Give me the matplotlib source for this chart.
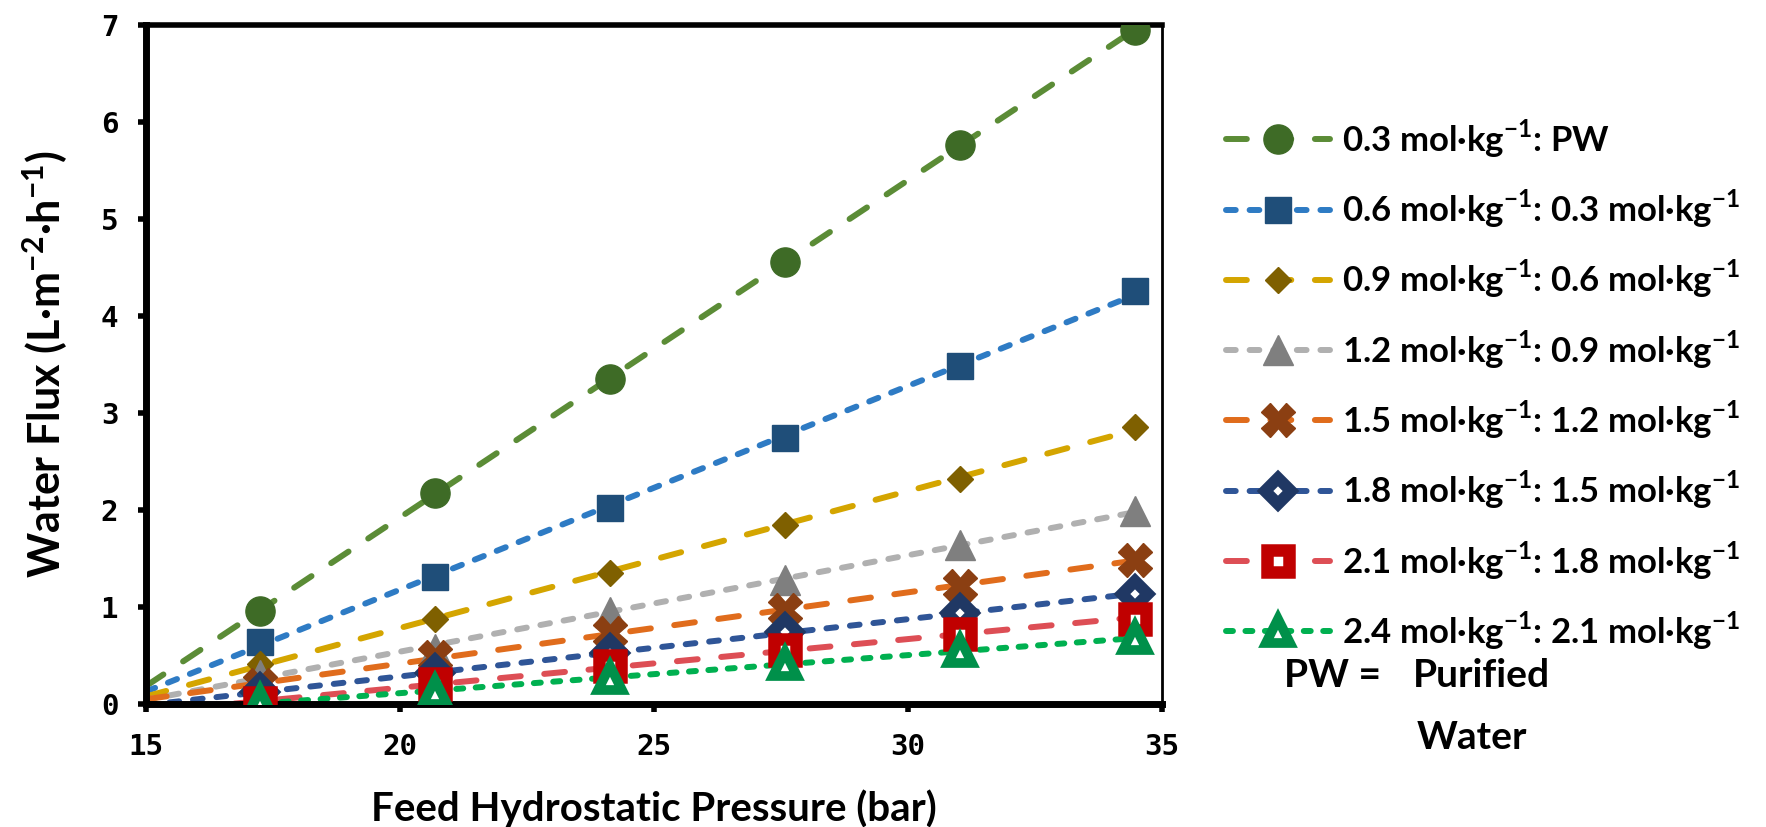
import numpy as np
import matplotlib
matplotlib.use("Agg")
import matplotlib.pyplot as plt
from matplotlib.lines import Line2D

plt.rcParams['font.family'] = ['Lato', 'DejaVu Sans']
plt.rcParams['mathtext.fontset'] = 'custom'
plt.rcParams['mathtext.rm'] = 'Lato'
plt.rcParams['mathtext.bf'] = 'Lato:bold'
plt.rcParams['lines.scale_dashes'] = False

# Feed hydrostatic pressure (bar)
pressure = [17.24, 20.68, 24.13, 27.58, 31.03, 34.47]

# Water flux (L m-2 h-1) for each draw:feed pair
flux_03_pw = [0.96, 2.17, 3.35, 4.56, 5.76, 6.95]
flux_06_03 = [0.64, 1.31, 2.02, 2.74, 3.48, 4.26]
flux_09_06 = [0.41, 0.88, 1.35, 1.85, 2.32, 2.85]
flux_12_09 = [0.30, 0.57, 0.95, 1.28, 1.64, 1.99]
flux_15_12 = [0.20, 0.48, 0.73, 0.97, 1.22, 1.48]
flux_18_15 = [0.12, 0.32, 0.53, 0.74, 0.94, 1.13]
flux_21_18 = [0.01, 0.21, 0.39, 0.56, 0.72, 0.88]
flux_24_21 = [0.02, 0.12, 0.27, 0.41, 0.55, 0.68]

sup = r'$^{\mathbf{-1}}$'
labels = [
    '0.3 mol·kg' + sup + ': PW',
    '0.6 mol·kg' + sup + ': 0.3 mol·kg' + sup,
    '0.9 mol·kg' + sup + ': 0.6 mol·kg' + sup,
    '1.2 mol·kg' + sup + ': 0.9 mol·kg' + sup,
    '1.5 mol·kg' + sup + ': 1.2 mol·kg' + sup,
    '1.8 mol·kg' + sup + ': 1.5 mol·kg' + sup,
    '2.1 mol·kg' + sup + ': 1.8 mol·kg' + sup,
    '2.4 mol·kg' + sup + ': 2.1 mol·kg' + sup,
]
series = [flux_03_pw, flux_06_03, flux_09_06, flux_12_09,
          flux_15_12, flux_18_15, flux_21_18, flux_24_21]

long_dash = (0, (15, 17))
short_dash = (0, (7, 10))
dot_dash = (0, (5, 9))

# line colour, dash, marker, marker size, face, edge, edge width
styles = [
    ('#5b8c36', long_dash, 'o', 21, '#3e6b26', '#3e6b26', 1),
    ('#2e7bc4', short_dash, 's', 19, '#1f4e79', '#1f4e79', 1),
    ('#d4a500', long_dash, 'D', 13, '#7f6000', '#7f6000', 1),
    ('#b0b0b0', short_dash, '^', 21, '#7f7f7f', '#7f7f7f', 1),
    ('#e06c1c', long_dash, 'X', 24, '#8b3f12', '#8b3f12', 1),
    ('#2f5597', short_dash, 'D', 13.5, 'white', '#203864', 8.5),
    ('#dd4e55', long_dash, 's', 15.5, 'white', '#c00000', 9),
    ('#00b050', dot_dash, '^', 17, 'white', '#00904a', 7),
]

fig = plt.figure(figsize=(17.66, 8.27), dpi=100)
ax = fig.add_axes([0.0827, 0.1487, 0.5753, 0.8213])

handles = []
xfit = np.array([15.0, pressure[-1]])
for i, (y, st) in enumerate(zip(series, styles)):
    lc, ls, mk, ms, fc, ec, mew = st
    # linear trendline, extended back to 15 bar
    k, b = np.polyfit(pressure, y, 1)
    ax.plot(xfit, k * xfit + b, color=lc, linestyle=ls, lw=4.3,
            dash_capstyle='round', zorder=2 + i * 0.01)
    ax.plot(pressure, y, linestyle='none', marker=mk, ms=ms,
            mfc=fc, mec=ec, mew=mew, zorder=3 + i * 0.01)
    handles.append(Line2D([], [], color=lc, linestyle=ls, lw=4.3,
                          dash_capstyle='round', marker=mk, ms=ms,
                          mfc=fc, mec=ec, mew=mew))

ax.set_xlim(15, 35)
ax.set_ylim(0, 7)
ax.set_xticks([15, 20, 25, 30, 35])
ax.set_yticks(range(0, 8))

for s in ['left', 'bottom']:
    ax.spines[s].set_linewidth(5)
ax.spines['top'].set_linewidth(4)
ax.spines['right'].set_linewidth(2)
ax.tick_params(axis='both', direction='out', width=4, length=6,
               labelsize=21)
ax.tick_params(axis='x', pad=15)
ax.tick_params(axis='y', pad=14)
for lab in ax.get_xticklabels() + ax.get_yticklabels():
    lab.set_family('DejaVu Sans Mono')
    lab.set_fontweight('bold')

ax.set_xlabel('Feed Hydrostatic Pressure (bar)', fontsize=29,
              fontweight='bold', labelpad=20)
ax.set_ylabel(r'Water Flux (L·m$^{\mathbf{-2}}$·h$^{\mathbf{-1}}$)',
              fontsize=31, fontweight='bold', labelpad=22)

leg = fig.legend(handles, labels, loc='upper left',
                 bbox_to_anchor=(0.694, 0.858), frameon=False,
                 prop={'weight': 'bold', 'size': 25},
                 handlelength=3.0, handletextpad=0.35, labelspacing=0.8,
                 borderpad=0, borderaxespad=0)

fig.text(0.727, 0.183, 'PW =', fontsize=28, fontweight='bold', va='center')
fig.text(0.800, 0.183, 'Purified', fontsize=28, fontweight='bold', va='center')
fig.text(0.802, 0.108, 'Water', fontsize=28, fontweight='bold', va='center')

fig.savefig('out.png', dpi=100)
